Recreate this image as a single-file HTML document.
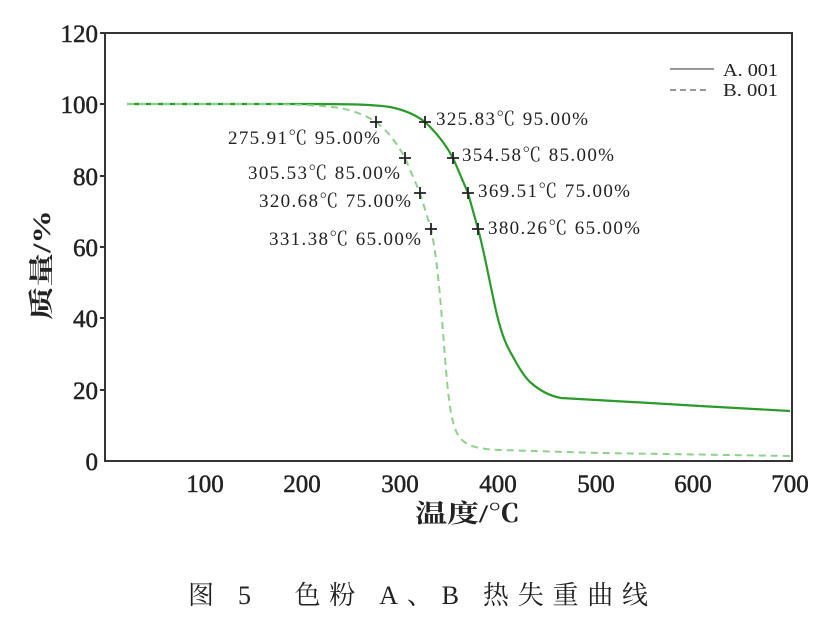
<!DOCTYPE html>
<html><head><meta charset="utf-8"><style>
body{margin:0;background:#fff;}
svg text{font-family:"Liberation Serif","Noto Serif CJK SC",serif;fill:#222;}
</style></head><body>
<svg width="839" height="629" viewBox="0 0 839 629" xmlns="http://www.w3.org/2000/svg">
<rect x="105" y="33" width="687" height="428" fill="none" stroke="#333" stroke-width="2"/>
<g stroke="#333" stroke-width="2">
<line x1="100" y1="33" x2="105" y2="33"/><line x1="100" y1="104" x2="105" y2="104"/>
<line x1="100" y1="176" x2="105" y2="176"/><line x1="100" y1="247" x2="105" y2="247"/>
<line x1="100" y1="318" x2="105" y2="318"/><line x1="100" y1="390" x2="105" y2="390"/>
</g>
<g font-size="25" text-anchor="end" stroke="#222" stroke-width="0.5">
<text x="98" y="42">120</text><text x="98" y="113">100</text><text x="98" y="185">80</text>
<text x="98" y="256">60</text><text x="98" y="327">40</text><text x="98" y="399">20</text><text x="98" y="470">0</text>
</g>
<g font-size="25" text-anchor="middle" stroke="#222" stroke-width="0.5">
<text x="205" y="492">100</text><text x="302" y="492">200</text><text x="400" y="492">300</text>
<text x="498" y="492">400</text><text x="596" y="492">500</text><text x="693" y="492">600</text><text x="790" y="492">700</text>
</g>
<text x="415" y="522" font-size="25" font-weight="bold" textLength="105" lengthAdjust="spacingAndGlyphs">温度/℃</text>
<text transform="translate(50,320) rotate(-90)" font-size="25" font-weight="bold" textLength="110" lengthAdjust="spacingAndGlyphs">质量/%</text>
<path d="M127,104 L300,104 C340,104 370,104 390,107 C405,110 416,115 425,122 C437,133 446,145 453,158 L468,193 L478,229 C484,250 490,285 497,315 C502,335 506,345 512,355 C518,366 523,375 530,382 C540,391 550,396 561,398 L650,403 L700,406 L790,411" fill="none" stroke="#2a9a2a" stroke-width="2.2"/>
<path d="M127,104 L250,104 C290,104 320,105 340,108 C355,111 367,116 376,122 C390,133 398,145 405,158 L420,193 L431,229 C438,260 442,320 446,370 C449,405 452,425 458,435 C464,445 475,449 500,450 L600,453 L790,456" fill="none" stroke="#8fd08f" stroke-width="2" stroke-dasharray="7,5"/>
<g stroke="#222" stroke-width="1.8">
<path d="M370,122h12M376,116v12"/><path d="M399,158h12M405,152v12"/><path d="M414,193h12M420,187v12"/><path d="M425,229h12M431,223v12"/>
<path d="M419,122h12M425,116v12"/><path d="M447,158h12M453,152v12"/><path d="M462,193h12M468,187v12"/><path d="M472,229h12M478,223v12"/>
</g>
<g font-size="19" lengthAdjust="spacingAndGlyphs">
<text x="228" y="144" textLength="152">275.91℃ 95.00%</text>
<text x="248" y="179" textLength="152">305.53℃ 85.00%</text>
<text x="259" y="207" textLength="152">320.68℃ 75.00%</text>
<text x="269" y="245" textLength="152">331.38℃ 65.00%</text>
<text x="436" y="125" textLength="152">325.83℃ 95.00%</text>
<text x="462" y="161" textLength="152">354.58℃ 85.00%</text>
<text x="478" y="197" textLength="152">369.51℃ 75.00%</text>
<text x="488" y="234" textLength="152">380.26℃ 65.00%</text>
</g>
<line x1="670" y1="69" x2="714" y2="69" stroke="#777" stroke-width="1.5"/>
<line x1="670" y1="90" x2="706" y2="90" stroke="#777" stroke-width="1.5" stroke-dasharray="6,4"/>
<g font-size="18"><text x="723" y="76" textLength="55" lengthAdjust="spacingAndGlyphs">A. 001</text><text x="723" y="96" textLength="55" lengthAdjust="spacingAndGlyphs">B. 001</text></g>
<text x="188" y="604" font-size="26" textLength="460" lengthAdjust="spacing">图 5　色粉 A、B 热失重曲线</text>
</svg>
</body></html>
